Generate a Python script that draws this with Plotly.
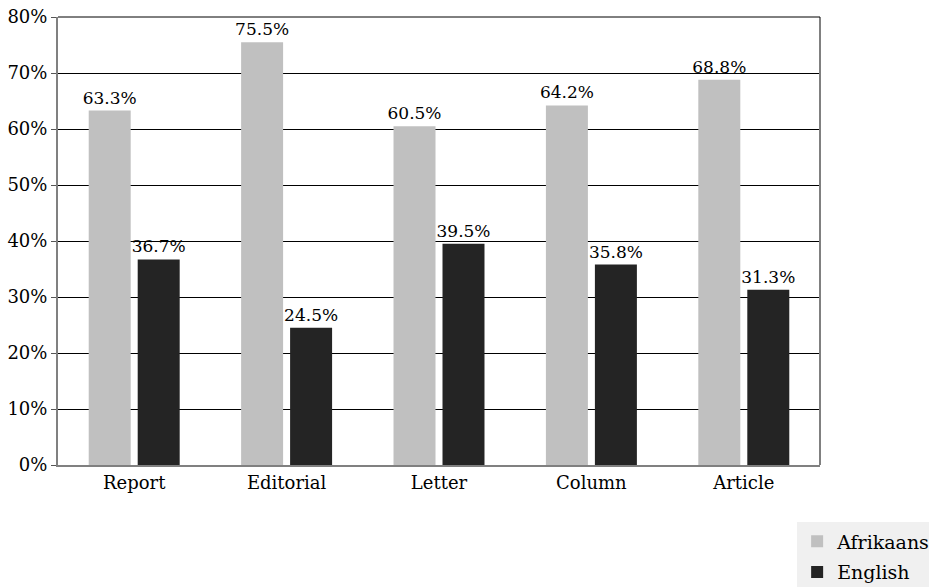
import plotly.graph_objects as go

categories = ["Report", "Editorial", "Letter", "Column", "Article"]
afrikaans = [63.3, 75.5, 60.5, 64.2, 68.8]
english = [36.7, 24.5, 39.5, 35.8, 31.3]
y_ticks = [0, 10, 20, 30, 40, 50, 60, 70, 80]

FONT = "DejaVu Serif"

fig = go.Figure()
fig.add_bar(
    x=categories, y=afrikaans, name="Afrikaans", legendgroup="af",
    marker=dict(color="#c0c0c0", line=dict(width=0)),
    text=[f"{v:.1f}%" for v in afrikaans], textposition="outside",
    constraintext="none",
    textfont=dict(family=FONT, size=17, color="#000"), cliponaxis=False,
)
fig.add_bar(
    x=categories, y=english, name="English", legendgroup="en",
    marker=dict(color="#242424", line=dict(width=0)),
    text=[f"{v:.1f}%" for v in english], textposition="outside",
    constraintext="none",
    textfont=dict(family=FONT, size=17, color="#000"), cliponaxis=False,
)

fig.update_layout(
    width=929, height=587,
    margin=dict(l=58, r=109, t=17, b=122, autoexpand=False),
    paper_bgcolor="white", plot_bgcolor="white",
    barmode="group", bargap=0.357, bargroupgap=0.143,
    font=dict(family=FONT, size=17, color="#000"),
    legend=dict(
        x=0.970, y=-0.128, xanchor="left", yanchor="top",
        bgcolor="#f0f0f0", font=dict(family=FONT, size=19, color="#000"),
        tracegroupgap=3,
    ),
    showlegend=True,
)
fig.update_yaxes(
    range=[0, 80], tickvals=y_ticks, ticktext=[f"{t}%" for t in y_ticks],
    showgrid=True, gridcolor="#000", gridwidth=1,
    showline=True, linecolor="#808080", linewidth=2, mirror=False,
    ticks="outside", ticklen=5, tickcolor="#555555",
    tickfont=dict(family=FONT, size=18, color="#000"), zeroline=False,
)
fig.update_xaxes(
    showline=True, linecolor="#808080", linewidth=2,
    ticks="", tickfont=dict(family=FONT, size=18, color="#000"),
)
# Frame: grey right edge, black top edge
fig.add_shape(type="line", xref="paper", yref="paper", x0=1, x1=1, y0=0, y1=1,
              line=dict(color="#808080", width=2))
fig.add_shape(type="line", xref="paper", yref="paper", x0=0, x1=1, y0=1, y1=1,
              line=dict(color="#000", width=1))

fig.write_html("out.html")
